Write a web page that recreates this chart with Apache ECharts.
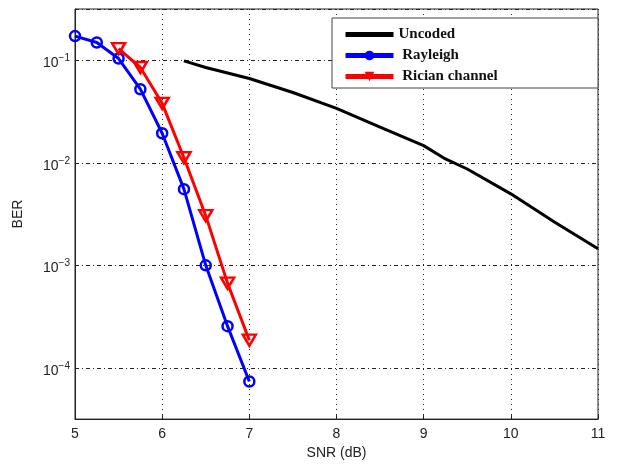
<!DOCTYPE html>
<html>
<head>
<meta charset="utf-8">
<script src="https://cdn.jsdelivr.net/npm/echarts@6/dist/echarts.min.js"></script>
<style>
  html, body { margin: 0; padding: 0; background: #fff; }
  #chart { width: 617px; height: 465px; }
</style>
</head>
<body>
<div id="chart"></div>
<script>
// SNR (dB) / BER values
var uncodedSnr = [6.25, 6.5, 7, 7.5, 8, 8.5, 9, 9.25, 9.5, 10, 10.5, 11]
var uncodedBer = [0.0985, 0.085, 0.0664, 0.0485, 0.0339, 0.0223, 0.0147, 0.0109, 0.0087, 0.00498, 0.00264, 0.00145]

var rayleighSnr = [5, 5.25, 5.5, 5.75, 6, 6.25, 6.5, 6.75, 7]
var rayleighBer = [0.172, 0.149, 0.104, 0.0522, 0.0194, 0.00553, 0.001, 0.000255, 0.0000736]

var ricianSnr = [5.5, 5.75, 6, 6.25, 6.5, 6.75, 7]
var ricianBer = [0.13, 0.085, 0.038, 0.0112, 0.00305, 0.00067, 0.000186]

var xTicks = [5, 6, 7, 8, 9, 10, 11]

function pairs (xs, ys) {
  return xs.map(function (x, i) { return [x, ys[i]] })
}

var chart = echarts.init(document.getElementById('chart'))

var sans = '"Liberation Sans", Arial, sans-serif'
var serif = '"Liberation Serif", "Times New Roman", serif'

var option = {
  animation: false,
  backgroundColor: '#fff',
  grid: {
    left: 75,
    right: 19,
    top: 9,
    bottom: 44,
    show: true,
    borderColor: '#222',
    borderWidth: 1
  },
  xAxis: {
    type: 'value',
    min: xTicks[0],
    max: xTicks[xTicks.length - 1],
    interval: 1,
    name: 'SNR (dB)',
    nameLocation: 'middle',
    nameGap: 25,
    nameTextStyle: { fontFamily: sans, fontSize: 14, color: '#222' },
    axisLine: { show: true, lineStyle: { color: '#222', width: 1 } },
    axisTick: { show: true, inside: true, length: 4, lineStyle: { color: '#222' } },
    axisLabel: { fontFamily: sans, fontSize: 14, color: '#222', margin: 8 },
    splitLine: { show: true, lineStyle: { color: '#222', width: 1, type: [1, 4] } }
  },
  yAxis: {
    type: 'log',
    logBase: 10,
    min: Math.pow(10, -4.5),
    max: Math.pow(10, -0.5),
    name: 'BER',
    nameLocation: 'middle',
    nameGap: 50,
    nameTextStyle: { fontFamily: sans, fontSize: 14, color: '#222' },
    axisLine: { show: true, lineStyle: { color: '#222', width: 1 } },
    axisTick: { show: true, inside: true, length: 4, lineStyle: { color: '#222' } },
    axisLabel: {
      margin: 5,
      formatter: function (v) {
        var e = Math.log10(v)
        if (Math.abs(e - Math.round(e)) > 1e-6) return ''
        return '{b|10}{s|' + (Math.round(e) < 0 ? '\u2212' : '') + Math.abs(Math.round(e)) + '}'
      },
      rich: {
        b: { fontFamily: sans, fontSize: 14, color: '#222', padding: [6, 0, 0, 0] },
        s: { fontFamily: sans, fontSize: 10, color: '#222', padding: [0, 0, 4, 0] }
      }
    },
    splitLine: { show: true, lineStyle: { color: '#222', width: 1, type: [4, 3, 1, 3] } }
  },
  graphic: [{
    type: 'rect',
    z: 3,
    shape: { x: 332, y: 18, width: 266, height: 70 },
    style: { fill: '#fff', stroke: '#444', lineWidth: 1 }
  }],
  legend: {
    orient: 'vertical',
    left: 338,
    top: 22,
    itemWidth: 48,
    itemHeight: 12,
    itemGap: 6,
    z: 5,
    lineStyle: { width: 5 },
    data: [
      { name: 'Uncoded', itemStyle: { opacity: 0 } },
      { name: 'Rayleigh', itemStyle: { color: '#0000ff', borderWidth: 0 } },
      { name: 'Rician channel', itemStyle: { color: '#ff0000', borderWidth: 0 } }
    ],
    formatter: function (name) { return name === 'Uncoded' ? name : ' ' + name },
    textStyle: { fontFamily: serif, fontWeight: 'bold', fontSize: 15, color: '#111' }
  },
  series: [
    {
      name: 'Uncoded',
      type: 'line',
      data: pairs(uncodedSnr, uncodedBer),
      showSymbol: false,
      symbol: 'none',
      lineStyle: { color: '#000', width: 3 },
      itemStyle: { color: '#000' }
    },
    {
      name: 'Rayleigh',
      type: 'line',
      data: pairs(rayleighSnr, rayleighBer),
      symbol: 'circle',
      symbolSize: 10,
      lineStyle: { color: '#0000ff', width: 3 },
      itemStyle: { color: 'rgba(0,0,0,0)', borderColor: '#0000ff', borderWidth: 2.5 }
    },
    {
      name: 'Rician channel',
      type: 'line',
      data: pairs(ricianSnr, ricianBer),
      symbol: 'triangle',
      symbolRotate: 180,
      symbolSize: [13, 11],
      lineStyle: { color: '#ff0000', width: 3 },
      itemStyle: { color: 'rgba(0,0,0,0)', borderColor: '#ff0000', borderWidth: 2.5 }
    }
  ]
}

chart.setOption(option)
</script>
</body>
</html>
